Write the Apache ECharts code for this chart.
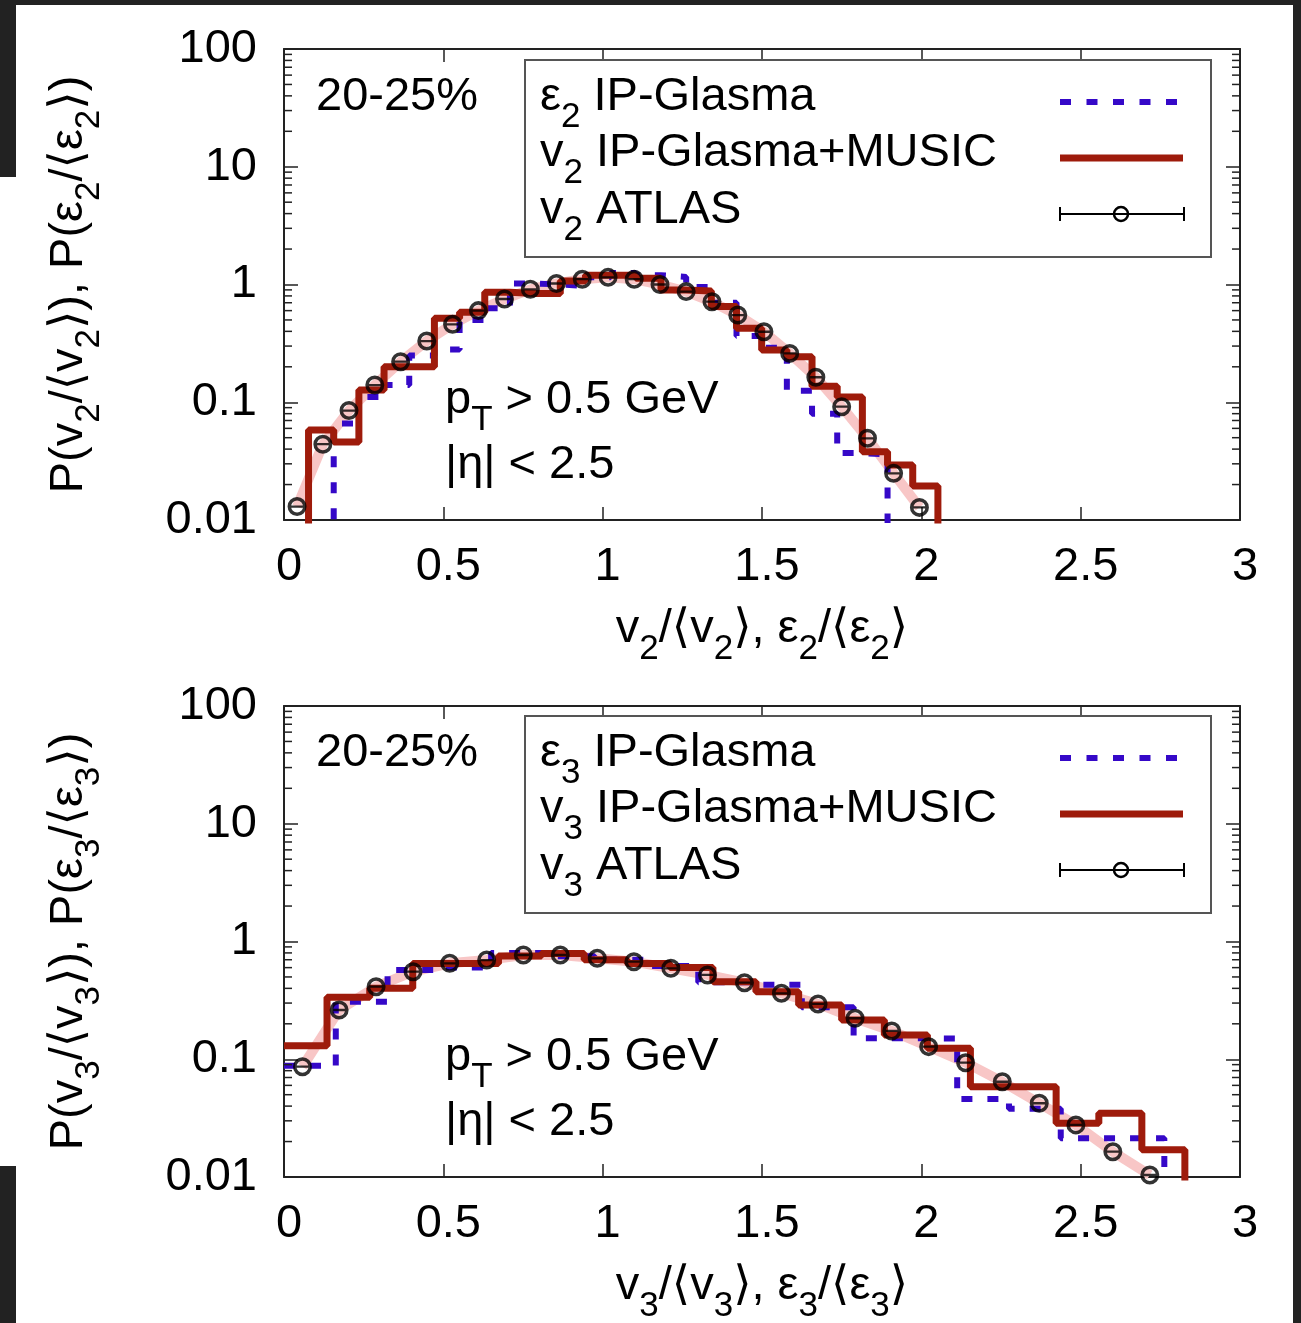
<!DOCTYPE html>
<html><head><meta charset="utf-8">
<script src="https://cdn.jsdelivr.net/npm/echarts@6/dist/echarts.min.js"></script>
<style>html,body{margin:0;padding:0;background:#fff;}#c{width:1301px;height:1323px;}</style>
</head><body><div id="c"></div><script>
// ---------- data ----------
const xTickLabels = ['0', '0.5', '1', '1.5', '2', '2.5', '3'];
const yTickLabels = ['0.01', '0.1', '1', '10', '100'];
const minorTickValues = [0.02,0.03,0.04,0.05,0.06,0.07,0.08,0.09,0.2,0.3,0.4,0.5,0.6,0.7,0.8,0.9,2,3,4,5,6,7,8,9,20,30,40,50,60,70,80,90];

// panel 1 (n = 2)
const v2ModelEdges = [0,0.077,0.156,0.235,0.314,0.393,0.472,0.551,0.630,0.709,0.788,0.867,0.946,1.025,1.104,1.183,1.262,1.341,1.420,1.499,1.578,1.657,1.736,1.815,1.894,1.973,2.052];
const eps2IPGlasma = [0.0001,0.0001,0.066,0.111,0.14,0.25,0.28,0.5,0.63,1.02,1.0,0.97,1.15,1.25,1.2,1.16,0.95,0.70,0.365,0.29,0.125,0.08,0.037,0.036,0.0001,0.0001];
const v2IPGlasmaMUSIC = [0.0001,0.058,0.046,0.127,0.20,0.20,0.516,0.58,0.86,0.84,0.84,1.07,1.2,1.2,1.13,0.9,0.88,0.65,0.425,0.278,0.244,0.137,0.111,0.038,0.0293,0.0194];
const v2AtlasX = [0.041,0.122,0.204,0.285,0.366,0.448,0.529,0.610,0.692,0.773,0.855,0.936,1.017,1.099,1.180,1.262,1.343,1.424,1.506,1.587,1.669,1.750,1.831,1.913,1.994];
const v2AtlasY = [0.013,0.044,0.085,0.14,0.221,0.331,0.459,0.60,0.753,0.91,1.02,1.11,1.15,1.11,1.00,0.87,0.714,0.55,0.397,0.26,0.163,0.0917,0.0494,0.0249,0.0128];

// panel 2 (n = 3)
const eps3Edges = [0,0.1625,0.325,0.4875,0.65,0.8125,0.975,1.1375,1.3,1.4625,1.625,1.7875,1.95,2.1125,2.275,2.4375,2.6,2.7625];
const eps3IPGlasma = [0.088,0.308,0.573,0.6,0.8,0.75,0.7,0.62,0.45,0.43,0.276,0.151,0.15,0.046,0.038,0.0213,0.0213];
const v3ModelEdges = [0,0.135,0.269,0.404,0.538,0.673,0.808,0.942,1.077,1.211,1.346,1.481,1.615,1.750,1.884,2.019,2.154,2.288,2.423,2.557,2.692,2.827];
const v3IPGlasmaMUSIC = [0.13,0.336,0.40,0.65,0.65,0.753,0.79,0.70,0.65,0.60,0.456,0.375,0.289,0.215,0.161,0.124,0.0585,0.0585,0.0286,0.0348,0.017];
const v3AtlasX = [0.058,0.173,0.289,0.405,0.520,0.636,0.751,0.867,0.983,1.098,1.214,1.329,1.445,1.561,1.676,1.792,1.907,2.023,2.139,2.254,2.370,2.485,2.601,2.717];
const v3AtlasY = [0.0865,0.262,0.413,0.554,0.653,0.696,0.768,0.768,0.72,0.674,0.592,0.52,0.447,0.363,0.295,0.223,0.174,0.128,0.0935,0.0644,0.0423,0.0277,0.0164,0.0104];

// ---------- styling ----------
const FONT = "'Liberation Sans', Arial, Helvetica, 'DejaVu Sans', sans-serif";
const FS = 47, SFS = 35;
const BLUE = '#3508c8', RED = '#9e1b0b', PINK = '#f8c6c6', AX = '#222';
const FLOOR = 1e-4;
const RICH_EC = {
  n: {fontSize: FS, fontFamily: FONT, color: '#000', lineHeight: 50},
  s: {fontSize: SFS, fontFamily: FONT, color: '#000', lineHeight: 36, padding: [40, 0, 0, 0]}
};
const RICH_G = {
  n: {fontSize: FS, fontFamily: FONT, fill: '#000', lineHeight: 50},
  s: {fontSize: SFS, fontFamily: FONT, fill: '#000', lineHeight: 36, padding: [40, 0, 0, 0]}
};
const ATLAS_SYMBOL = 'path://M0,10A10,10,0,1,1,20,10A10,10,0,1,1,0,10ZM3.7,10A6.3,6.3,0,1,0,16.3,10A6.3,6.3,0,1,0,3.7,10ZM3.7,8.8L16.3,8.8L16.3,11.2L3.7,11.2Z';

function hist(edges, vals) {
  const pts = [];
  for (let i = 0; i < vals.length; i++) pts.push([edges[i], vals[i]]);
  pts.push([edges[vals.length], vals[vals.length - 1]]);
  pts.push([edges[vals.length], FLOOR]);
  return pts;
}
function zip(a, b) { return a.map((v, i) => [v, b[i]]); }

const grids = [
  {left: 284, top: 49, width: 956, height: 471, outerBoundsMode: 'none'},
  {left: 284, top: 706, width: 956, height: 471, outerBoundsMode: 'none'}
];
const axisLine = {show: true, onZero: false, lineStyle: {color: AX, width: 2}};
function xAxesFor(g, name) {
  return [
    {type: 'value', gridIndex: g, position: 'bottom', min: 0, max: 3, interval: 0.5,
     axisLine, splitLine: {show: false},
     axisTick: {show: true, inside: true, length: 13, lineStyle: {color: AX, width: 1.5}},
     axisLabel: {show: true, margin: 24, fontSize: FS, fontFamily: FONT, color: '#000', padding: [0, 0, 0, 10],
                 formatter: v => xTickLabels[Math.round(v * 2)]},
     name, nameLocation: 'middle', nameGap: 77,
     nameTextStyle: {fontSize: FS, fontFamily: FONT, color: '#000', rich: RICH_EC}},
    {type: 'value', gridIndex: g, position: 'top', min: 0, max: 3, interval: 0.5,
     axisLine, splitLine: {show: false}, axisLabel: {show: false},
     axisTick: {show: true, inside: true, length: 13, lineStyle: {color: AX, width: 1.5}}}
  ];
}
function yAxesFor(g, name) {
  return [
    {type: 'log', logBase: 10, gridIndex: g, position: 'left', min: 0.01, max: 100,
     axisLine, splitLine: {show: false}, minorTick: {show: false},
     axisTick: {show: true, inside: true, length: 14, lineStyle: {color: AX, width: 1.5}},
     axisLabel: {show: true, margin: 27, fontSize: FS, fontFamily: FONT, color: '#000',
                 formatter: v => yTickLabels[Math.round(Math.log10(v)) + 2]},
     name, nameLocation: 'middle', nameRotate: 90, nameGap: 190,
     nameTextStyle: {fontSize: FS, fontFamily: FONT, color: '#000', rich: RICH_EC}},
    {type: 'log', logBase: 10, gridIndex: g, position: 'right', min: 0.01, max: 100,
     axisLine, splitLine: {show: false}, axisLabel: {show: false},
     axisTick: {show: true, inside: true, length: 14, lineStyle: {color: AX, width: 1.5}}}
  ];
}

function panelSeries(g, edgesEps, eps, edgesV, vm, ax, ay) {
  const xi = g * 2, yi = g * 2;
  return [
    {type: 'line', xAxisIndex: xi, yAxisIndex: yi, data: zip(ax, ay), showSymbol: false, z: 1,
     lineStyle: {color: PINK, width: 10}, clip: true, silent: true},
    {type: 'line', name: 'eps', xAxisIndex: xi, yAxisIndex: yi, data: hist(edgesEps, eps), step: 'end',
     showSymbol: false, z: 2, clip: true, lineStyle: {color: BLUE, width: 6, type: [11, 15], cap: 'butt'}},
    {type: 'line', name: 'music', xAxisIndex: xi, yAxisIndex: yi, data: hist(edgesV, vm), step: 'end',
     showSymbol: false, z: 3, clip: true, lineStyle: {color: RED, width: 7}},
    {type: 'scatter', name: 'atlas', xAxisIndex: xi, yAxisIndex: yi, data: zip(ax, ay), z: 4,
     symbol: ATLAS_SYMBOL, symbolSize: 19, itemStyle: {color: '#000'}},
    {type: 'custom', xAxisIndex: xi, yAxisIndex: yi, z: 5, silent: true,
     data: minorTickValues.map(v => [0, v]),
     renderItem: (params, api) => {
       const v = api.value(1);
       const pl = api.coord([0, v]), pr = api.coord([3, v]);
       const st = {stroke: AX, lineWidth: 1.5};
       return {type: 'group', children: [
         {type: 'line', shape: {x1: pl[0], y1: pl[1], x2: pl[0] + 8, y2: pl[1]}, style: st},
         {type: 'line', shape: {x1: pr[0] - 8, y1: pr[1], x2: pr[0], y2: pr[1]}, style: st}
       ]};
     }}
  ];
}

function txt(x, y, text) {
  return {type: 'text', z: 100, style: {text, rich: RICH_G, x, y, align: 'left', verticalAlign: 'middle', fill: '#000',
          fontSize: FS, fontFamily: FONT}};
}
function panelGraphics(top, n) {
  const bt = top === 49 ? 60 : 716;
  const els = [];
  els.push({type: 'rect', z: 99, shape: {x: 525, y: bt, width: 686, height: 197},
            style: {fill: '#fff', stroke: '#555', lineWidth: 2}});
  els.push(txt(540, bt + 37, '{n|ε}{s|' + n + '}{n| IP-Glasma}'));
  els.push(txt(540, bt + 93, '{n|v}{s|' + n + '}{n| IP-Glasma+MUSIC}'));
  els.push(txt(540, bt + 150, '{n|v}{s|' + n + '}{n| ATLAS}'));
  els.push({type: 'line', z: 100, shape: {x1: 1060, y1: bt + 42, x2: 1182, y2: bt + 42},
            style: {stroke: BLUE, lineWidth: 6, lineDash: [11, 15.5]}});
  els.push({type: 'line', z: 100, shape: {x1: 1060, y1: bt + 98, x2: 1183, y2: bt + 98},
            style: {stroke: RED, lineWidth: 7}});
  const ly = bt + 154;
  els.push({type: 'line', z: 100, shape: {x1: 1060, y1: ly, x2: 1184, y2: ly}, style: {stroke: '#000', lineWidth: 2}});
  els.push({type: 'line', z: 100, shape: {x1: 1060, y1: ly - 7, x2: 1060, y2: ly + 7}, style: {stroke: '#000', lineWidth: 2}});
  els.push({type: 'line', z: 100, shape: {x1: 1184, y1: ly - 7, x2: 1184, y2: ly + 7}, style: {stroke: '#000', lineWidth: 2}});
  els.push({type: 'circle', z: 100, shape: {cx: 1121, cy: ly, r: 7}, style: {stroke: '#000', lineWidth: 2.5, fill: 'none'}});
  els.push(txt(316, bt + 37, '{n|20-25%}'));
  els.push(txt(445, top + 351, '{n|p}{s|T}{n| > 0.5 GeV}'));
  els.push(txt(445, top + 416, '{n||η| < 2.5}'));
  return els;
}

const bg = [
  {type: 'rect', z: 0, shape: {x: 0, y: 0, width: 1301, height: 5}, style: {fill: '#222'}},
  {type: 'rect', z: 0, shape: {x: 1293, y: 0, width: 8, height: 1323}, style: {fill: '#222'}},
  {type: 'rect', z: 0, shape: {x: 0, y: 0, width: 16, height: 177}, style: {fill: '#222'}},
  {type: 'rect', z: 0, shape: {x: 0, y: 1166, width: 16, height: 157}, style: {fill: '#222'}}
];

const chart = echarts.init(document.getElementById('c'), null, {renderer: 'canvas'});
chart.setOption({
  animation: false,
  backgroundColor: '#fff',
  grid: grids,
  xAxis: [...xAxesFor(0, '{n|v}{s|2}{n|/⟨v}{s|2}{n|⟩, ε}{s|2}{n|/⟨ε}{s|2}{n|⟩}'),
          ...xAxesFor(1, '{n|v}{s|3}{n|/⟨v}{s|3}{n|⟩, ε}{s|3}{n|/⟨ε}{s|3}{n|⟩}')],
  yAxis: [...yAxesFor(0, '{n|P(v}{s|2}{n|/⟨v}{s|2}{n|⟩), P(ε}{s|2}{n|/⟨ε}{s|2}{n|⟩)}'),
          ...yAxesFor(1, '{n|P(v}{s|3}{n|/⟨v}{s|3}{n|⟩), P(ε}{s|3}{n|/⟨ε}{s|3}{n|⟩)}')],
  series: [...panelSeries(0, v2ModelEdges, eps2IPGlasma, v2ModelEdges, v2IPGlasmaMUSIC, v2AtlasX, v2AtlasY),
           ...panelSeries(1, eps3Edges, eps3IPGlasma, v3ModelEdges, v3IPGlasmaMUSIC, v3AtlasX, v3AtlasY)],
  graphic: [...bg, ...panelGraphics(49, 2), ...panelGraphics(706, 3)]
});
</script></body></html>
